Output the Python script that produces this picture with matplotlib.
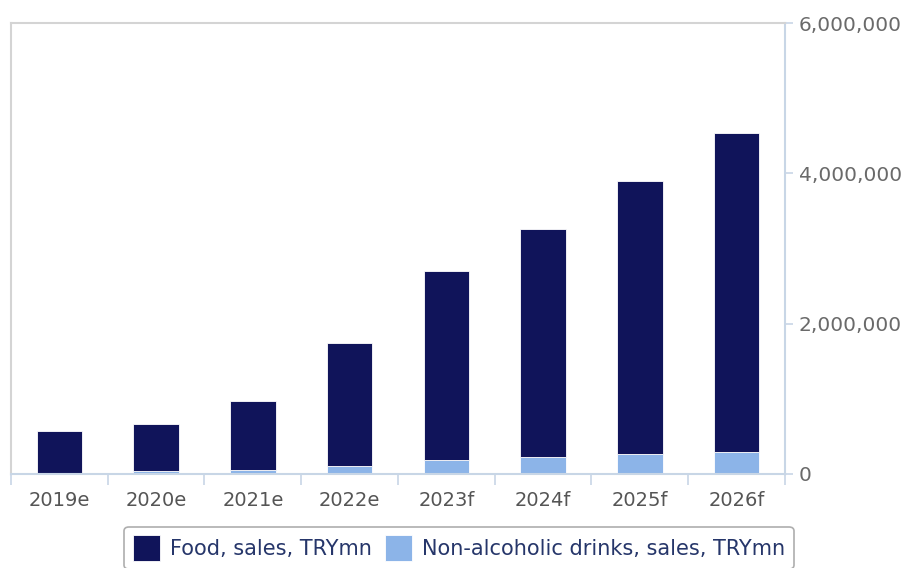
import matplotlib
matplotlib.use("Agg")
import matplotlib.pyplot as plt
from matplotlib.ticker import FuncFormatter

years = ["2019e", "2020e", "2021e", "2022e", "2023f", "2024f", "2025f", "2026f"]
drinks = [15000, 45000, 55000, 110000, 185000, 225000, 270000, 295000]
food = [555000, 625000, 915000, 1630000, 2515000, 3035000, 3630000, 4235000]

navy = "#10145a"
light = "#8cb4e8"
axis_col = "#c8d6e6"

fig = plt.figure(figsize=(9.08, 5.68), dpi=100)
ax = fig.add_axes([0.0121, 0.1655, 0.8524, 0.794])

x = range(len(years))
ax.bar(x, drinks, width=0.47, color=light, edgecolor="white", linewidth=0.6,
       label="Non-alcoholic drinks, sales, TRYmn", zorder=2)
ax.bar(x, food, width=0.47, bottom=drinks, color=navy, edgecolor="white", linewidth=0.6,
       label="Food, sales, TRYmn", zorder=2)

ax.set_xlim(-0.5, len(years) - 0.5)
ax.set_ylim(0, 6000000)
ax.set_yticks([0, 2000000, 4000000, 6000000])
ax.yaxis.set_major_formatter(FuncFormatter(lambda v, p: f"{int(v):,}"))
ax.yaxis.tick_right()
ax.tick_params(axis="y", colors=axis_col, labelcolor="#6a6a6a", labelsize=14.5,
               length=6, width=1.2, pad=4)

# category ticks at the boundaries, labels in the middle
ax.set_xticks([i - 0.5 for i in range(len(years) + 1)])
ax.set_xticklabels([])
ax.set_xticks(list(x), minor=True)
ax.set_xticklabels(years, minor=True)
ax.tick_params(axis="x", which="major", colors=axis_col, length=8, width=1.2)
ax.tick_params(axis="x", which="minor", length=0, labelcolor="#555555", labelsize=14, pad=12)

for side in ["left", "top"]:
    ax.spines[side].set_color("#d4d4d4")
    ax.spines[side].set_linewidth(1.5)
ax.spines["right"].set_color(axis_col)
ax.spines["right"].set_linewidth(1.5)
ax.spines["bottom"].set_color(axis_col)
ax.spines["bottom"].set_linewidth(1.5)

h, l = ax.get_legend_handles_labels()
leg = fig.legend(h[::-1], l[::-1], loc="center", bbox_to_anchor=(0.5055, 0.035), ncol=2,
                 fontsize=15, frameon=True, fancybox=True, handlelength=1.3,
                 handleheight=1.5, handletextpad=0.5, columnspacing=0.6,
                 borderpad=0.4, labelcolor="#26366a")
leg.get_frame().set_edgecolor("#9a9a9a")
leg.get_frame().set_linewidth(1.2)

plt.savefig("out.png", dpi=100)
